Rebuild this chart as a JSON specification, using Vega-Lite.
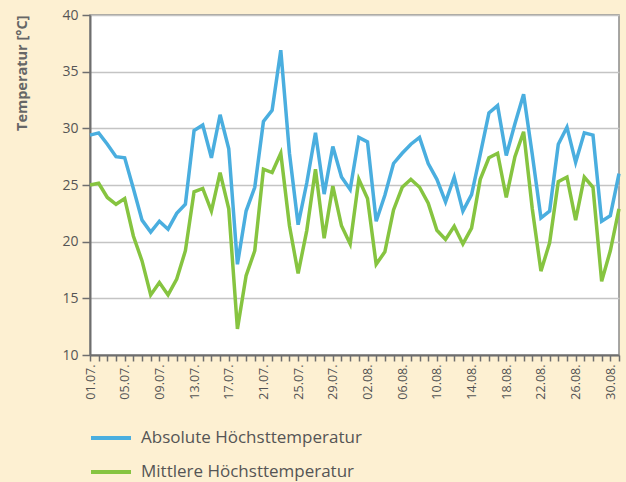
{
  "$schema": "https://vega.github.io/schema/vega-lite/v6.json",
  "width": 529,
  "height": 340,
  "autosize": {"type": "none"},
  "padding": {"left": 90, "top": 15, "right": 7, "bottom": 127},
  "background": "#fdf0d2",
  "config": {
    "font": "Open Sans",
    "view": {"fill": "white", "stroke": "#8a8a8a", "strokeWidth": 1.5}
  },
  "data": {
    "values": [
      {"Datum": "01.07.", "Absolute Höchsttemperatur": 29.4, "Mittlere Höchsttemperatur": 25.0},
      {"Datum": "02.07.", "Absolute Höchsttemperatur": 29.6, "Mittlere Höchsttemperatur": 25.15},
      {"Datum": "03.07.", "Absolute Höchsttemperatur": 28.6, "Mittlere Höchsttemperatur": 23.9},
      {"Datum": "04.07.", "Absolute Höchsttemperatur": 27.5, "Mittlere Höchsttemperatur": 23.3},
      {"Datum": "05.07.", "Absolute Höchsttemperatur": 27.4, "Mittlere Höchsttemperatur": 23.8},
      {"Datum": "06.07.", "Absolute Höchsttemperatur": 24.7, "Mittlere Höchsttemperatur": 20.5},
      {"Datum": "07.07.", "Absolute Höchsttemperatur": 21.9, "Mittlere Höchsttemperatur": 18.3},
      {"Datum": "08.07.", "Absolute Höchsttemperatur": 20.85, "Mittlere Höchsttemperatur": 15.3},
      {"Datum": "09.07.", "Absolute Höchsttemperatur": 21.8, "Mittlere Höchsttemperatur": 16.4},
      {"Datum": "10.07.", "Absolute Höchsttemperatur": 21.1, "Mittlere Höchsttemperatur": 15.3},
      {"Datum": "11.07.", "Absolute Höchsttemperatur": 22.5, "Mittlere Höchsttemperatur": 16.7},
      {"Datum": "12.07.", "Absolute Höchsttemperatur": 23.3, "Mittlere Höchsttemperatur": 19.2},
      {"Datum": "13.07.", "Absolute Höchsttemperatur": 29.8, "Mittlere Höchsttemperatur": 24.4},
      {"Datum": "14.07.", "Absolute Höchsttemperatur": 30.3, "Mittlere Höchsttemperatur": 24.7},
      {"Datum": "15.07.", "Absolute Höchsttemperatur": 27.4, "Mittlere Höchsttemperatur": 22.7},
      {"Datum": "16.07.", "Absolute Höchsttemperatur": 31.2, "Mittlere Höchsttemperatur": 26.1},
      {"Datum": "17.07.", "Absolute Höchsttemperatur": 28.2, "Mittlere Höchsttemperatur": 22.9},
      {"Datum": "18.07.", "Absolute Höchsttemperatur": 18.0, "Mittlere Höchsttemperatur": 12.3},
      {"Datum": "19.07.", "Absolute Höchsttemperatur": 22.7, "Mittlere Höchsttemperatur": 17.0},
      {"Datum": "20.07.", "Absolute Höchsttemperatur": 24.8, "Mittlere Höchsttemperatur": 19.2},
      {"Datum": "21.07.", "Absolute Höchsttemperatur": 30.6, "Mittlere Höchsttemperatur": 26.4},
      {"Datum": "22.07.", "Absolute Höchsttemperatur": 31.6, "Mittlere Höchsttemperatur": 26.1},
      {"Datum": "23.07.", "Absolute Höchsttemperatur": 36.9, "Mittlere Höchsttemperatur": 27.8},
      {"Datum": "24.07.", "Absolute Höchsttemperatur": 27.8, "Mittlere Höchsttemperatur": 21.4},
      {"Datum": "25.07.", "Absolute Höchsttemperatur": 21.5, "Mittlere Höchsttemperatur": 17.2},
      {"Datum": "26.07.", "Absolute Höchsttemperatur": 25.2, "Mittlere Höchsttemperatur": 21.0},
      {"Datum": "27.07.", "Absolute Höchsttemperatur": 29.6, "Mittlere Höchsttemperatur": 26.4},
      {"Datum": "28.07.", "Absolute Höchsttemperatur": 24.2, "Mittlere Höchsttemperatur": 20.3},
      {"Datum": "29.07.", "Absolute Höchsttemperatur": 28.4, "Mittlere Höchsttemperatur": 24.9},
      {"Datum": "30.07.", "Absolute Höchsttemperatur": 25.7, "Mittlere Höchsttemperatur": 21.4},
      {"Datum": "31.07.", "Absolute Höchsttemperatur": 24.6, "Mittlere Höchsttemperatur": 19.8},
      {"Datum": "01.08.", "Absolute Höchsttemperatur": 29.2, "Mittlere Höchsttemperatur": 25.5},
      {"Datum": "02.08.", "Absolute Höchsttemperatur": 28.8, "Mittlere Höchsttemperatur": 23.8},
      {"Datum": "03.08.", "Absolute Höchsttemperatur": 21.8, "Mittlere Höchsttemperatur": 18.0},
      {"Datum": "04.08.", "Absolute Höchsttemperatur": 24.1, "Mittlere Höchsttemperatur": 19.1},
      {"Datum": "05.08.", "Absolute Höchsttemperatur": 26.9, "Mittlere Höchsttemperatur": 22.8},
      {"Datum": "06.08.", "Absolute Höchsttemperatur": 27.8, "Mittlere Höchsttemperatur": 24.8},
      {"Datum": "07.08.", "Absolute Höchsttemperatur": 28.6, "Mittlere Höchsttemperatur": 25.5},
      {"Datum": "08.08.", "Absolute Höchsttemperatur": 29.2, "Mittlere Höchsttemperatur": 24.8},
      {"Datum": "09.08.", "Absolute Höchsttemperatur": 26.9, "Mittlere Höchsttemperatur": 23.4},
      {"Datum": "10.08.", "Absolute Höchsttemperatur": 25.5, "Mittlere Höchsttemperatur": 21.0},
      {"Datum": "11.08.", "Absolute Höchsttemperatur": 23.5, "Mittlere Höchsttemperatur": 20.2},
      {"Datum": "12.08.", "Absolute Höchsttemperatur": 25.7, "Mittlere Höchsttemperatur": 21.35},
      {"Datum": "13.08.", "Absolute Höchsttemperatur": 22.7, "Mittlere Höchsttemperatur": 19.8},
      {"Datum": "14.08.", "Absolute Höchsttemperatur": 24.15, "Mittlere Höchsttemperatur": 21.2},
      {"Datum": "15.08.", "Absolute Höchsttemperatur": 27.7, "Mittlere Höchsttemperatur": 25.5},
      {"Datum": "16.08.", "Absolute Höchsttemperatur": 31.35, "Mittlere Höchsttemperatur": 27.4},
      {"Datum": "17.08.", "Absolute Höchsttemperatur": 32.0, "Mittlere Höchsttemperatur": 27.8},
      {"Datum": "18.08.", "Absolute Höchsttemperatur": 27.6, "Mittlere Höchsttemperatur": 23.9},
      {"Datum": "19.08.", "Absolute Höchsttemperatur": 30.4, "Mittlere Höchsttemperatur": 27.5},
      {"Datum": "20.08.", "Absolute Höchsttemperatur": 33.0, "Mittlere Höchsttemperatur": 29.7},
      {"Datum": "21.08.", "Absolute Höchsttemperatur": 27.7, "Mittlere Höchsttemperatur": 22.9},
      {"Datum": "22.08.", "Absolute Höchsttemperatur": 22.1, "Mittlere Höchsttemperatur": 17.4},
      {"Datum": "23.08.", "Absolute Höchsttemperatur": 22.7, "Mittlere Höchsttemperatur": 19.9},
      {"Datum": "24.08.", "Absolute Höchsttemperatur": 28.6, "Mittlere Höchsttemperatur": 25.3},
      {"Datum": "25.08.", "Absolute Höchsttemperatur": 30.1, "Mittlere Höchsttemperatur": 25.7},
      {"Datum": "26.08.", "Absolute Höchsttemperatur": 27.0, "Mittlere Höchsttemperatur": 21.9},
      {"Datum": "27.08.", "Absolute Höchsttemperatur": 29.6, "Mittlere Höchsttemperatur": 25.7},
      {"Datum": "28.08.", "Absolute Höchsttemperatur": 29.4, "Mittlere Höchsttemperatur": 24.8},
      {"Datum": "29.08.", "Absolute Höchsttemperatur": 21.8, "Mittlere Höchsttemperatur": 16.5},
      {"Datum": "30.08.", "Absolute Höchsttemperatur": 22.3, "Mittlere Höchsttemperatur": 19.2},
      {"Datum": "31.08.", "Absolute Höchsttemperatur": 26.0, "Mittlere Höchsttemperatur": 22.9}
    ]
  },
  "transform": [
    {"fold": ["Absolute Höchsttemperatur", "Mittlere Höchsttemperatur"], "as": ["Reihe", "Wert"]}
  ],
  "mark": {"type": "line", "strokeWidth": 3.5},
  "encoding": {
    "x": {
      "field": "Datum",
      "type": "ordinal",
      "sort": null,
      "scale": {"type": "point", "padding": 0},
      "axis": {
        "title": null,
        "grid": false,
        "domainColor": "#6e6e6e",
        "domainWidth": 2,
        "tickColor": "#6e6e6e",
        "tickSize": 6,
        "tickWidth": 1.5,
        "labelAngle": -90,
        "labelAlign": "right",
        "labelBaseline": "middle",
        "labelFontSize": 12.5,
        "labelColor": "#555555",
        "labelPadding": 3,
        "labelOverlap": false,
        "labelExpr": "indexof(['01.07.','05.07.','09.07.','13.07.','17.07.','21.07.','25.07.','29.07.','02.08.','06.08.','10.08.','14.08.','18.08.','22.08.','26.08.','30.08.'], datum.value) >= 0 ? datum.label : ''"
      }
    },
    "y": {
      "field": "Wert",
      "type": "quantitative",
      "scale": {"domain": [10, 40], "nice": false},
      "axis": {
        "values": [10, 15, 20, 25, 30, 35, 40],
        "title": "Temperatur [°C]",
        "titleFontSize": 14.5,
        "titleFontWeight": "bold",
        "titleColor": "#666666",
        "titleAngle": -90,
        "titleAlign": "right",
        "titleBaseline": "middle",
        "titleX": -68,
        "titleY": 0,
        "gridColor": "#c4c4c4",
        "gridWidth": 1.5,
        "domainColor": "#6e6e6e",
        "domainWidth": 2,
        "tickColor": "#6e6e6e",
        "tickSize": 8,
        "tickWidth": 1.5,
        "labelFontSize": 14,
        "labelColor": "#555555",
        "labelPadding": 4
      }
    },
    "color": {
      "field": "Reihe",
      "type": "nominal",
      "scale": {
        "domain": ["Absolute Höchsttemperatur", "Mittlere Höchsttemperatur"],
        "range": ["#4aaedf", "#86c440"]
      },
      "legend": {
        "orient": "none",
        "legendX": 9,
        "legendY": 411,
        "title": null,
        "direction": "vertical",
        "symbolType": "M-2,0H2",
        "symbolSize": 400,
        "symbolStrokeWidth": 4,
        "labelFontSize": 17,
        "labelLimit": 400,
        "labelColor": "#555555",
        "labelOffset": 18,
        "rowPadding": 14
      }
    }
  }
}
